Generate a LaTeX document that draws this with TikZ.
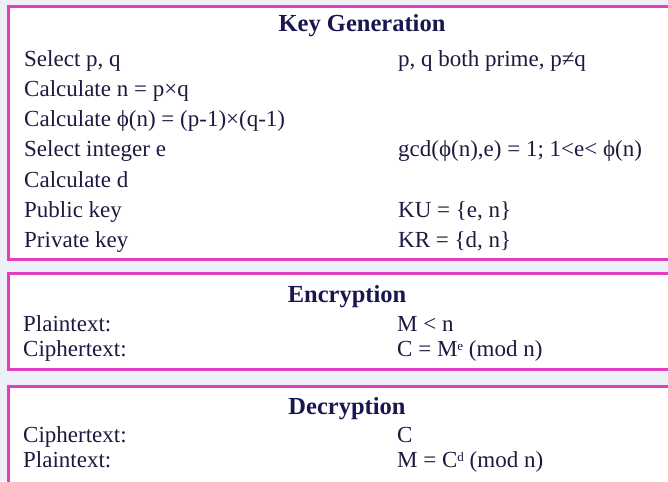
\documentclass[tikz,border=0pt]{standalone}
\usepackage{fontspec}
\setmainfont{Liberation Serif}
\definecolor{rim}{RGB}{226,62,192}
\definecolor{ink}{RGB}{28,26,64}
\definecolor{headink}{RGB}{26,22,80}
\definecolor{paper}{RGB}{238,240,248}

\begin{document}
\begin{tikzpicture}[x=1pt,y=-1pt,
  panel/.style={draw=rim, line width=3pt, fill=white},
  head/.style={font=\fontsize{24.5}{28}\selectfont\bfseries, text=headink, inner sep=0pt, anchor=base},
  lbl/.style={font=\fontsize{23}{28}\selectfont, text=ink, inner sep=0pt, anchor=base west}]
\path[use as bounding box, fill=paper] (0,0) rectangle (668,481);
\draw[panel] (8,7) rectangle (678,259);
\draw[panel] (8,273) rectangle (678,369);
\draw[panel] (8,386) rectangle (678,500);

% key generation
\node[head] (keygen) at (362,32) {Key Generation};
\node[lbl] (selpq) at (24,67) {Select p, q};
\node[lbl] (prime) at (398,67) {p, q both prime, p≠q};
\node[lbl] (calcn) at (24,97) {Calculate n = p×q};
\node[lbl] (calcphi) at (24,127) {Calculate ϕ(n) = (p-1)×(q-1)};
\node[lbl] (sele) at (24,157) {Select integer e};
\node[lbl] (gcd) at (398,157) {gcd(ϕ(n),e) = 1; 1<e< ϕ(n)};
\node[lbl] (calcd) at (24,187) {Calculate d};
\node[lbl] (pub) at (24,217) {Public key};
\node[lbl] (ku) at (398,217) {KU = \{e, n\}};
\node[lbl] (priv) at (24,247) {Private key};
\node[lbl] (kr) at (398,247) {KR = \{d, n\}};

% encryption
\node[head] (enc) at (347,302) {Encryption};
\node[lbl] (encplain) at (23,331) {Plaintext:};
\node[lbl] (mlt) at (397,331) {M < n};
\node[lbl] (enccipher) at (23,356) {Ciphertext:};
\node[lbl] (cme) at (397,356) {C = M\raisebox{0.55ex}{\fontsize{13}{14}\selectfont e} (mod n)};

% decryption
\node[head] (dec) at (347,414) {Decryption};
\node[lbl] (deccipher) at (23,442) {Ciphertext:};
\node[lbl] (cc) at (397,442) {C};
\node[lbl] (decplain) at (23,467) {Plaintext:};
\node[lbl] (mcd) at (397,467) {M = C\raisebox{0.55ex}{\fontsize{13}{14}\selectfont d} (mod n)};

\end{tikzpicture}
\end{document}
